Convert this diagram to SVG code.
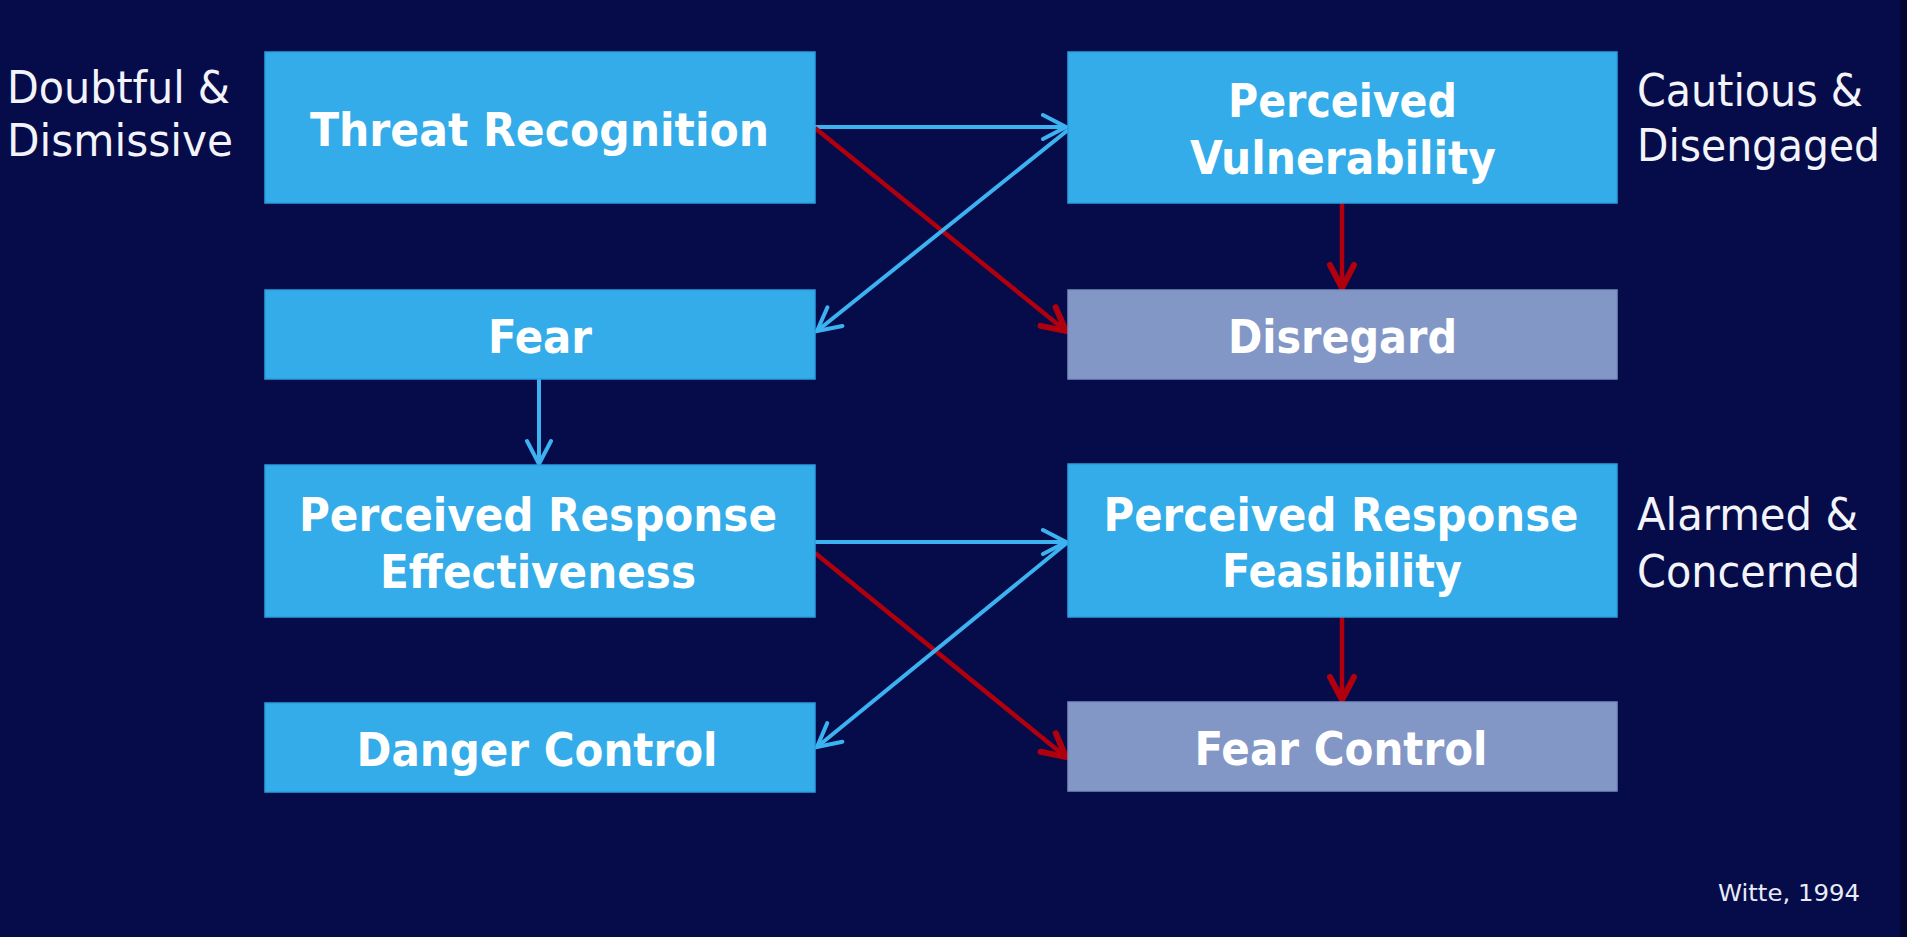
<svg xmlns="http://www.w3.org/2000/svg" width="1907" height="937" viewBox="0 0 1907 937">
<style>
.bx{fill:#33ACE9;stroke:#2C9FDE;stroke-width:1.5}
.gr{fill:#8397C7;stroke:#7A8EC0;stroke-width:1.5}
.bt{font-family:"DejaVu Sans Condensed","DejaVu Sans",sans-serif;font-weight:bold;font-size:46px;fill:#FFFFFF;text-anchor:middle}
.st{font-family:"DejaVu Sans Condensed","DejaVu Sans",sans-serif;font-size:44px;fill:#F2F4FA}
.bl{stroke:#3DB2F0;stroke-width:4;fill:none}
.rd{stroke:#B0000E;stroke-width:4.5;fill:none}
</style>
<defs>
<marker id="ab" viewBox="-30 -16 34 32" refX="0" refY="0" markerWidth="34" markerHeight="32" markerUnits="userSpaceOnUse" orient="auto">
<path d="M-23,-12 L0,0 L-23,12" fill="none" stroke="#3DB2F0" stroke-width="4" stroke-linejoin="miter" stroke-linecap="round"/>
</marker>
<marker id="ar" viewBox="-30 -16 34 32" refX="0" refY="0" markerWidth="34" markerHeight="32" markerUnits="userSpaceOnUse" orient="auto">
<path d="M-23,-12 L0,0 L-23,12" fill="none" stroke="#B0000E" stroke-width="6" stroke-linejoin="miter" stroke-linecap="round"/>
</marker>
</defs>
<rect x="0" y="0" width="1907" height="937" fill="#060B4A"/>
<rect x="1900" y="0" width="7" height="937" fill="#040730"/>

<g id="connectors">
<line class="bl" x1="815" y1="127" x2="1066" y2="127" marker-end="url(#ab)"/>
<line class="rd" x1="815" y1="128" x2="1066" y2="331" marker-end="url(#ar)"/>
<line class="bl" x1="1068" y1="130" x2="817" y2="331" marker-end="url(#ab)"/>
<line class="rd" x1="1342" y1="203" x2="1342" y2="288" marker-end="url(#ar)"/>
<line class="bl" x1="539" y1="379" x2="539" y2="464" marker-end="url(#ab)"/>
<line class="bl" x1="815" y1="542" x2="1066" y2="542" marker-end="url(#ab)"/>
<line class="rd" x1="815" y1="553" x2="1066" y2="757" marker-end="url(#ar)"/>
<line class="bl" x1="1068" y1="542" x2="817" y2="747" marker-end="url(#ab)"/>
<line class="rd" x1="1342" y1="617" x2="1342" y2="700" marker-end="url(#ar)"/>
</g>

<g id="threat-recognition">
<rect class="bx" x="265" y="52" width="550" height="151"/>
<text class="bt" x="539.5" y="146" textLength="459" lengthAdjust="spacingAndGlyphs">Threat Recognition</text>
</g>
<g id="perceived-vulnerability">
<rect class="bx" x="1068" y="52" width="549" height="151"/>
<text class="bt" x="1342.5" y="117" textLength="229" lengthAdjust="spacingAndGlyphs">Perceived</text>
<text class="bt" x="1343" y="174" textLength="306" lengthAdjust="spacingAndGlyphs">Vulnerability</text>
</g>
<g id="fear">
<rect class="bx" x="265" y="290" width="550" height="89"/>
<text class="bt" x="540" y="353" textLength="104" lengthAdjust="spacingAndGlyphs">Fear</text>
</g>
<g id="disregard">
<rect class="gr" x="1068" y="290" width="549" height="89"/>
<text class="bt" x="1342.5" y="353" textLength="229" lengthAdjust="spacingAndGlyphs">Disregard</text>
</g>
<g id="perceived-response-effectiveness">
<rect class="bx" x="265" y="465" width="550" height="152"/>
<text class="bt" x="538" y="531" textLength="478" lengthAdjust="spacingAndGlyphs">Perceived Response</text>
<text class="bt" x="538" y="588" textLength="316" lengthAdjust="spacingAndGlyphs">Effectiveness</text>
</g>
<g id="perceived-response-feasibility">
<rect class="bx" x="1068" y="464" width="549" height="153"/>
<text class="bt" x="1341" y="531" textLength="475" lengthAdjust="spacingAndGlyphs">Perceived Response</text>
<text class="bt" x="1342" y="587" textLength="240" lengthAdjust="spacingAndGlyphs">Feasibility</text>
</g>
<g id="danger-control">
<rect class="bx" x="265" y="703" width="550" height="89"/>
<text class="bt" x="537" y="766" textLength="361" lengthAdjust="spacingAndGlyphs">Danger Control</text>
</g>
<g id="fear-control">
<rect class="gr" x="1068" y="702" width="549" height="89"/>
<text class="bt" x="1341" y="765" textLength="293" lengthAdjust="spacingAndGlyphs">Fear Control</text>
</g>

<g id="side-labels">
<text class="st" x="7" y="103" textLength="223" lengthAdjust="spacingAndGlyphs">Doubtful &amp;</text>
<text class="st" x="7" y="156" textLength="226" lengthAdjust="spacingAndGlyphs">Dismissive</text>
<text class="st" x="1637" y="106" textLength="226" lengthAdjust="spacingAndGlyphs">Cautious &amp;</text>
<text class="st" x="1637" y="161" textLength="243" lengthAdjust="spacingAndGlyphs">Disengaged</text>
<text class="st" x="1637" y="530" textLength="221" lengthAdjust="spacingAndGlyphs">Alarmed &amp;</text>
<text class="st" x="1637" y="587" textLength="223" lengthAdjust="spacingAndGlyphs">Concerned</text>
<text x="1718" y="901" textLength="142" lengthAdjust="spacingAndGlyphs" style="font-family:'DejaVu Sans Condensed','DejaVu Sans',sans-serif;font-size:23px;fill:#E8ECF6">Witte, 1994</text>
</g>
</svg>
